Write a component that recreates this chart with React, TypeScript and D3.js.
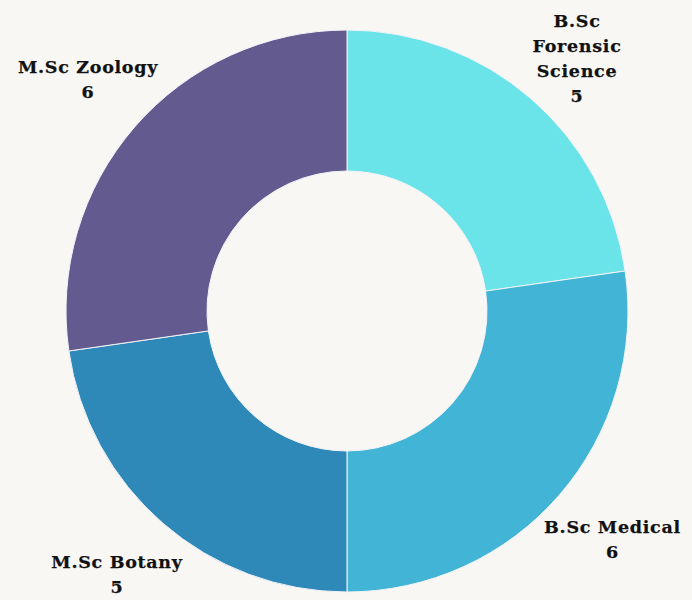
import { arc, pie } from "d3";

const WIDTH = 692;
const HEIGHT = 600;

const courses = ["B.Sc Forensic Science", "B.Sc Medical", "M.Sc Botany", "M.Sc Zoology"];
const counts = [5, 6, 5, 6];
const colors = ["#6ae3e9", "#42b5d6", "#2e89b9", "#635a90"];
// how each label is broken into lines
const labelLines = [["B.Sc", "Forensic", "Science"], ["B.Sc Medical"], ["M.Sc Botany"], ["M.Sc Zoology"]];

const CENTER = { x: 347, y: 311 };
const OUTER = 281;
const INNER = 140;
const LINE_H = 25;

type Row = { course: string; count: number; color: string; lines: string[] };

export default function App() {
  const rows: Row[] = courses.map((c, i) => ({
    course: c,
    count: counts[i],
    color: colors[i],
    lines: labelLines[i],
  }));

  const pieGen = pie<Row>().value((d) => d.count).sort(null);
  const slices = pieGen(rows);

  const arcGen = arc<any>().innerRadius(INNER).outerRadius(OUTER);
  const labelArc = arc<any>().innerRadius(OUTER * 1.25).outerRadius(OUTER * 1.25);

  return (
    <svg
      width={WIDTH}
      height={HEIGHT}
      style={{ position: "absolute", left: 0, top: 0, display: "block" }}
    >
      <rect width={WIDTH} height={HEIGHT} fill="#f8f7f4" />
      <g transform={`translate(${CENTER.x},${CENTER.y})`}>
        {slices.map((s, i) => (
          <path key={i} d={arcGen(s) || ""} fill={s.data.color} stroke="#f4f4f8" strokeWidth={1} />
        ))}
        {slices.map((s, i) => {
          const [cx, cy] = labelArc.centroid(s);
          const lines = [...s.data.lines, String(s.data.count)];
          let top = cy - ((lines.length - 1) * LINE_H) / 2;
          // keep labels inside the picture
          top = Math.max(-CENTER.y + 22, top);
          top = Math.min(HEIGHT - CENTER.y - 10 - (lines.length - 1) * LINE_H, top);
          const x = Math.max(-CENTER.x + 88, Math.min(WIDTH - CENTER.x - 76, cx));
          return (
            <text
              key={i}
              textAnchor="middle"
              fontFamily="'DejaVu Serif', Georgia, serif"
              fontWeight={700}
              fontSize={17.5}
              letterSpacing={0.7}
              fill="#111"
              stroke="#111"
              strokeWidth={0.25}
            >
              {lines.map((l, j) => (
                <tspan key={j} x={x} y={top + j * LINE_H} dominantBaseline="middle">
                  {l}
                </tspan>
              ))}
            </text>
          );
        })}
      </g>
    </svg>
  );
}
